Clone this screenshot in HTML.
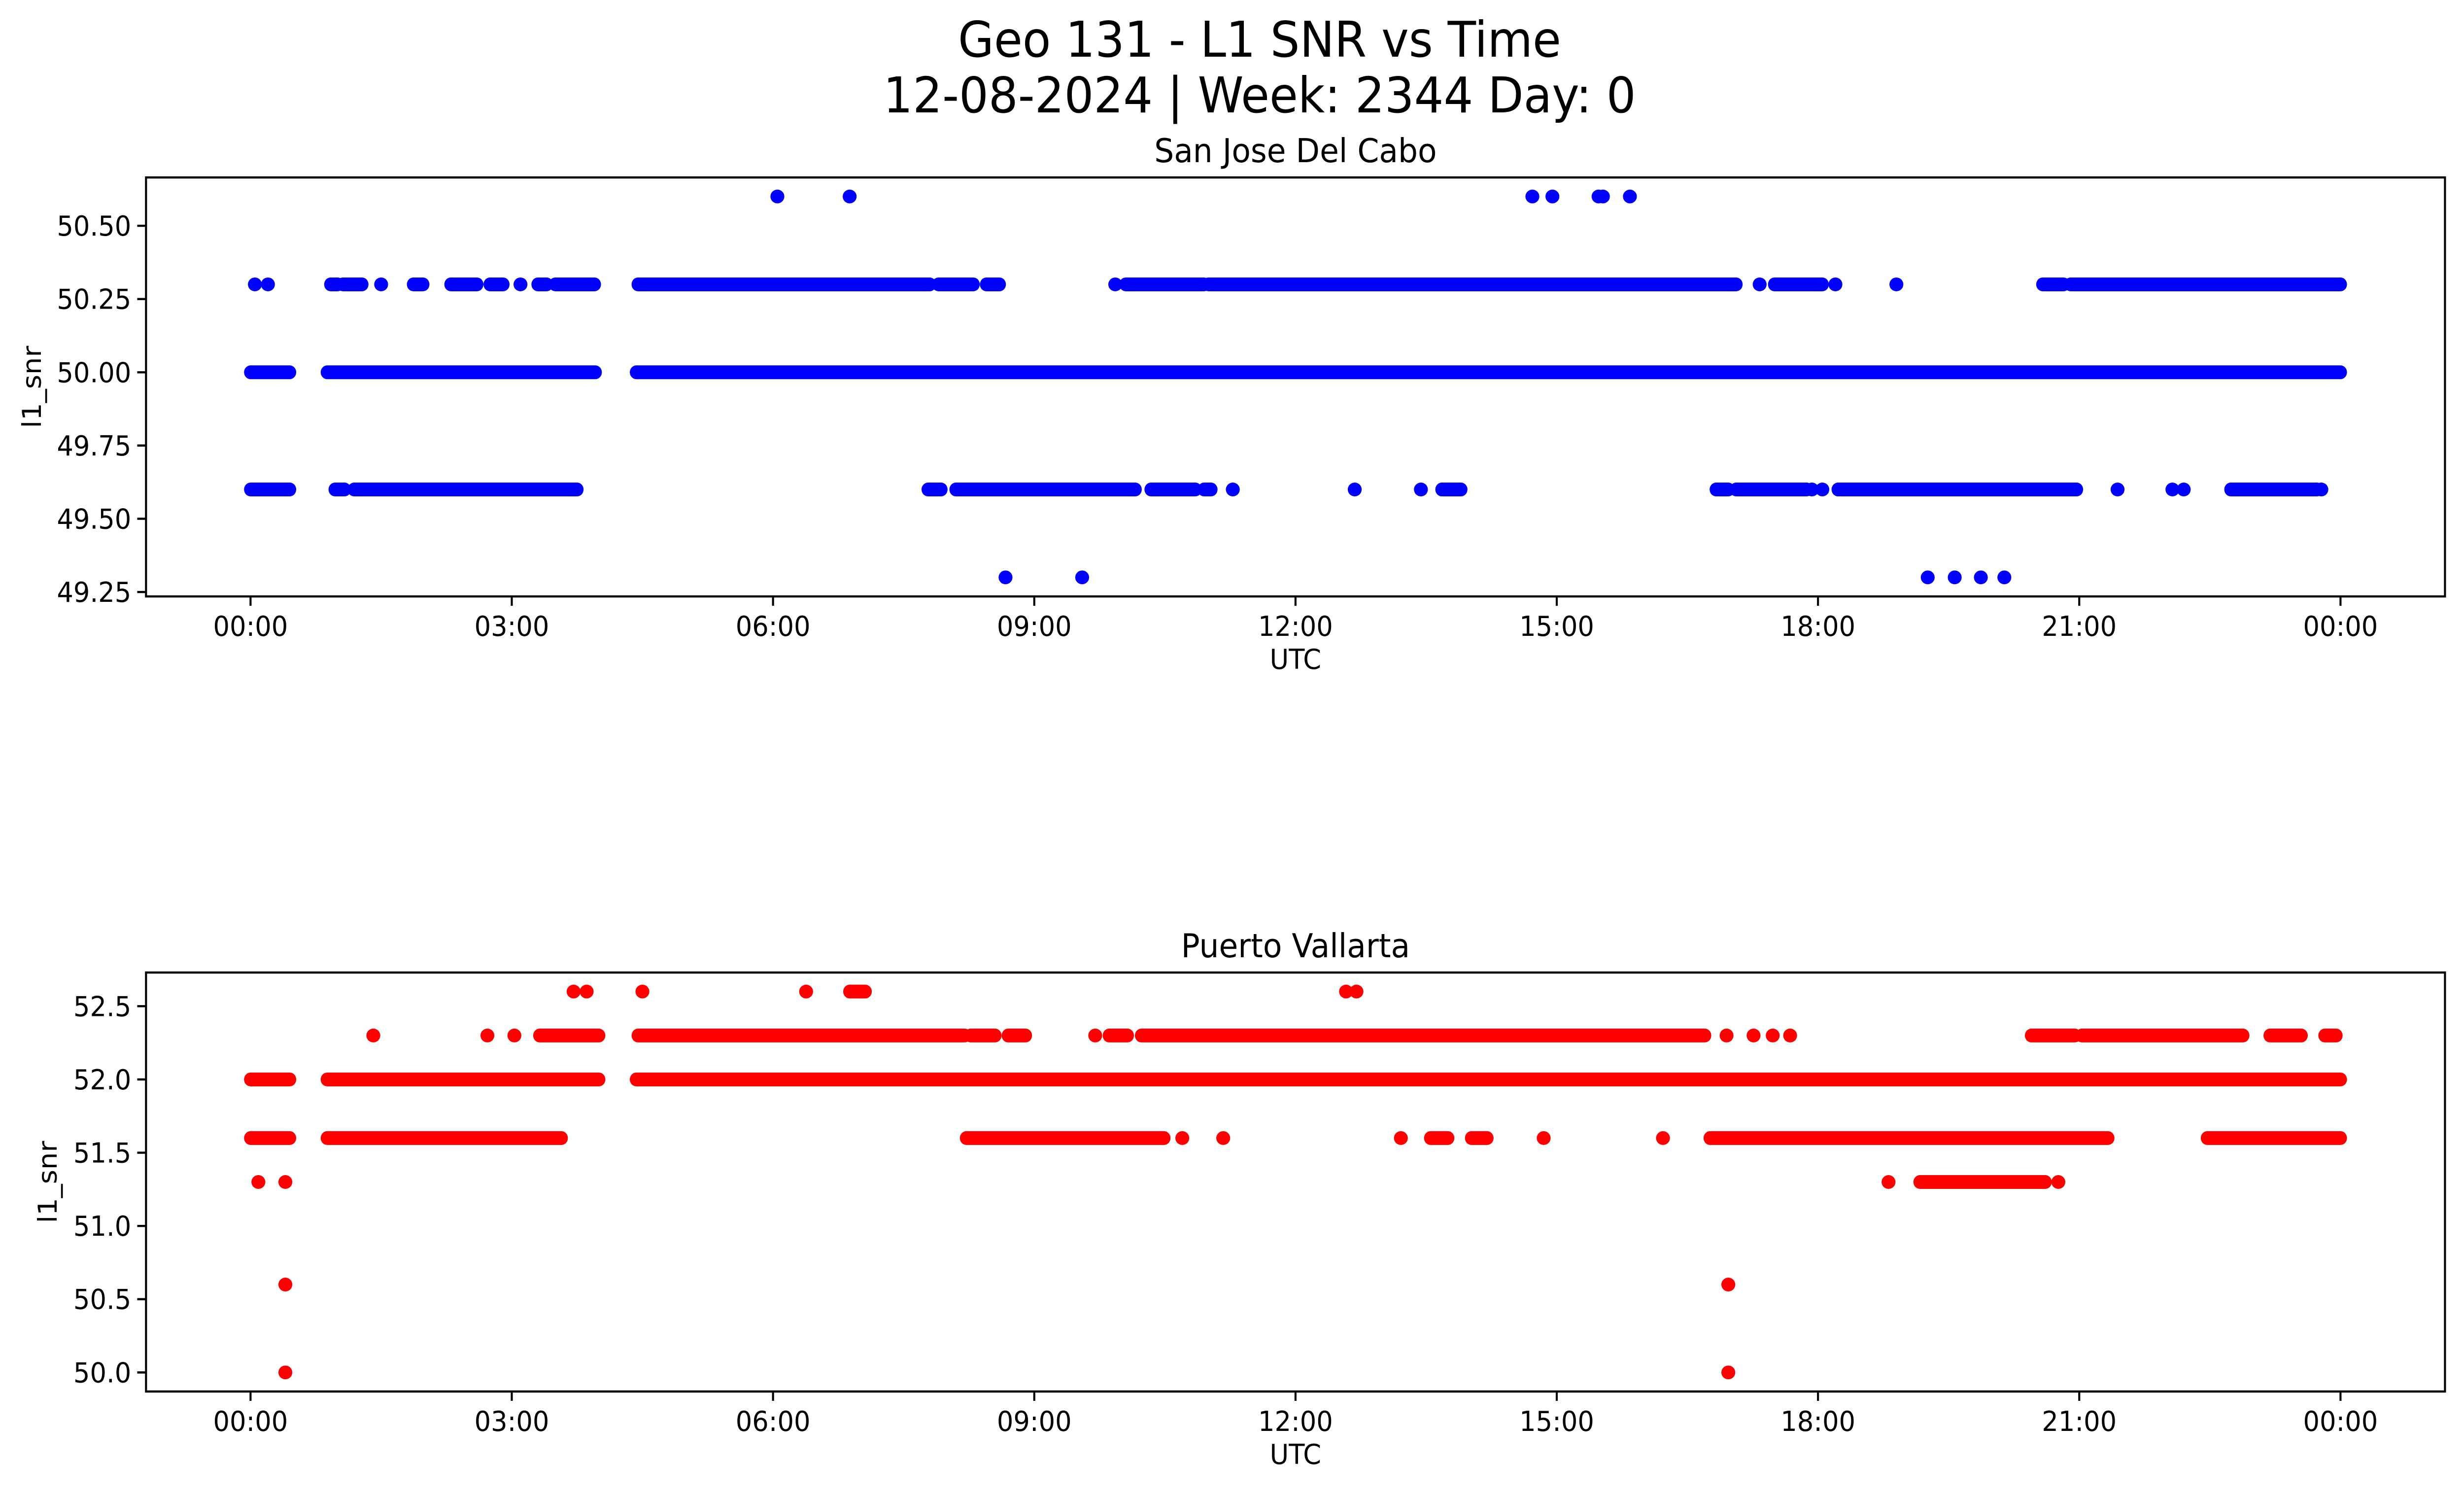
<!DOCTYPE html>
<html><head><meta charset="utf-8">
<style>html,body{margin:0;padding:0;background:#fff;overflow:hidden;width:100%;height:100%}svg{display:block;width:100vw;height:100vh}text{font-family:"DejaVu Sans","Liberation Sans",sans-serif;fill:#000}</style>
</head><body>
<svg id="fig" viewBox="0 0 5315 3033" preserveAspectRatio="none" xmlns="http://www.w3.org/2000/svg">
<rect width="5315" height="3033" fill="#fff"/>
<text x="2717" y="115" font-size="100" text-anchor="middle">Geo 131 - L1 SNR vs Time</text>
<text x="2717" y="228" font-size="100" text-anchor="middle">12-08-2024 | Week: 2344 Day: 0</text>
<g id="top"></g>
<g id="bot"></g>
</svg>
<script>
// ---- data: hours since 00:00 UTC ----
const xTickLabels = ["00:00","03:00","06:00","09:00","12:00","15:00","18:00","21:00","00:00"];
const xTickHours = [0,3,6,9,12,15,18,21,24];
// San Jose Del Cabo (blue)
const sjLevels = [50.6, 50.3, 50.0, 49.6, 49.3];
const sjPoints = [
  [6.05,6.88,14.72,14.95,15.48,15.53,15.84],
  [0.05,0.2,1.5,3.1,9.93,17.33,18.2,18.9],
  [],
  [11.28,12.68,13.44,17.93,18.05,21.44,22.07,22.2,23.78],
  [8.67,9.55,19.26,19.57,19.87,20.14]
];
const sjRunStart = [
  [],
  [0.92,1.06,1.87,2.3,2.75,3.3,3.5,4.45,7.9,8.45,10.05,11.0,17.5,20.58,20.9],
  [0,0.88,4.43],
  [0,0.97,1.19,7.78,8.1,10.34,10.95,13.68,16.83,17.06,18.23,22.74],
  []
];
const sjRunEnd = [
  [],
  [1.0,1.28,1.98,2.6,2.9,3.4,3.95,7.8,8.3,8.6,10.95,17.06,18.05,20.82,24.0],
  [0.45,3.96,24.0],
  [0.45,1.08,3.75,7.93,10.16,10.85,11.03,13.9,16.97,17.87,20.97,23.73],
  []
];
// Puerto Vallarta (red)
const pvLevels = [52.6, 52.3, 52.0, 51.6, 51.3, 50.6, 50.0];
const pvPoints = [
  [3.71,3.86,4.5,6.38,12.58,12.7],
  [1.41,2.72,3.03,9.7,16.95,17.26,17.48,17.68],
  [],
  [10.7,11.17,13.21,14.85,16.22],
  [0.09,0.4,18.81,20.76],
  [0.4,16.97],
  [0.4,16.97]
];
const pvRunStart = [
  [6.88],
  [3.32,4.45,8.27,8.7,9.86,10.23,20.45,21.03,23.19,23.82],
  [0,0.88,4.43],
  [0,0.88,8.22,13.55,14.02,16.76,22.47],
  [19.17],
  [],
  []
];
const pvRunEnd = [
  [7.06],
  [4.0,8.2,8.55,8.9,10.07,16.7,20.95,22.88,23.55,23.95],
  [0.45,4.0,24.0],
  [0.45,3.57,10.49,13.75,14.2,21.33,24.0],
  [20.61],
  [],
  []
];
const sjYTicks = [49.25,49.5,49.75,50.0,50.25,50.5];
const sjYLabels = ["49.25","49.50","49.75","50.00","50.25","50.50"];
const pvYTicks = [50.0,50.5,51.0,51.5,52.0,52.5];
const pvYLabels = ["50.0","50.5","51.0","51.5","52.0","52.5"];

const NS="http://www.w3.org/2000/svg";
function mk(parent,tag,attrs){const e=document.createElementNS(NS,tag);for(const k in attrs)e.setAttribute(k,attrs[k]);parent.appendChild(e);return e;}
const L=315,R=5274,X0=-1.2,X1=25.2;
const xs=h=>L+(h-X0)/(X1-X0)*(R-L);

function panel(gid,top,bot,ymin,ymax,title,color,levels,points,rs,re,yt,yl,key){
  const g=document.getElementById(gid);
  const ys=v=>bot-(v-ymin)/(ymax-ymin)*(bot-top);
  const t=mk(g,'text',{x:(L+R)/2,y:top-31,'font-size':67,'text-anchor':'middle'});
  t.textContent=title;
  
  
  const marks=mk(g,'g',{fill:color,stroke:color});
  
  
  for(let i=0;i<levels.length;i++){
    const y=ys(levels[i]);
    for(let j=0;j<rs[i].length;j++){
      const ln=mk(marks,'line',{x1:xs(rs[i][j]),x2:xs(re[i][j]),y1:y,y2:y,'stroke-width':28,'stroke-linecap':'round'});
      
      
    }
    for(const h of points[i]){
      const c=mk(marks,'ellipse',{cx:xs(h),cy:y,rx:15,ry:14,stroke:'none'});
      
      
    }
  }
  const fr=mk(g,'rect',{x:L,y:top,width:R-L,height:bot-top,fill:'none',stroke:'#000','stroke-width':4.4});
  
  
  for(let i=0;i<xTickHours.length;i++){
    const x=xs(xTickHours[i]);
    mk(g,'line',{x1:x,x2:x,y1:bot,y2:bot+19,stroke:'#000','stroke-width':4.4});
    const tl=mk(g,'text',{x:x,y:bot+80,'font-size':56,'text-anchor':'middle'});
    tl.textContent=xTickLabels[i];
    
    
  }
  for(let i=0;i<yt.length;i++){
    const y=ys(yt[i]);
    mk(g,'line',{x1:L-19,x2:L,y1:y,y2:y,stroke:'#000','stroke-width':4.4});
    const tl=mk(g,'text',{x:L-32,y:y+20,'font-size':56,'text-anchor':'end'});
    tl.textContent=yl[i];
    
    
  }
  const xl=mk(g,'text',{x:(L+R)/2,y:bot+147,'font-size':56,'text-anchor':'middle'});
  xl.textContent='UTC';
  
  
  const ylx = key==='sj'?88:122;
  const yla=mk(g,'text',{x:ylx,y:(top+bot)/2,'font-size':56,'text-anchor':'middle',transform:`rotate(-90 ${ylx} ${(top+bot)/2})`});
  yla.textContent='l1_snr';
  
  
}
panel('top',360,1210,49.235,50.665,'San Jose Del Cabo','#0000ff',sjLevels,sjPoints,sjRunStart,sjRunEnd,sjYTicks,sjYLabels,'sj');
panel('bot',1973,2823,49.87,52.73,'Puerto Vallarta','#ff0000',pvLevels,pvPoints,pvRunStart,pvRunEnd,pvYTicks,pvYLabels,'pv');
</script>
</body></html>
